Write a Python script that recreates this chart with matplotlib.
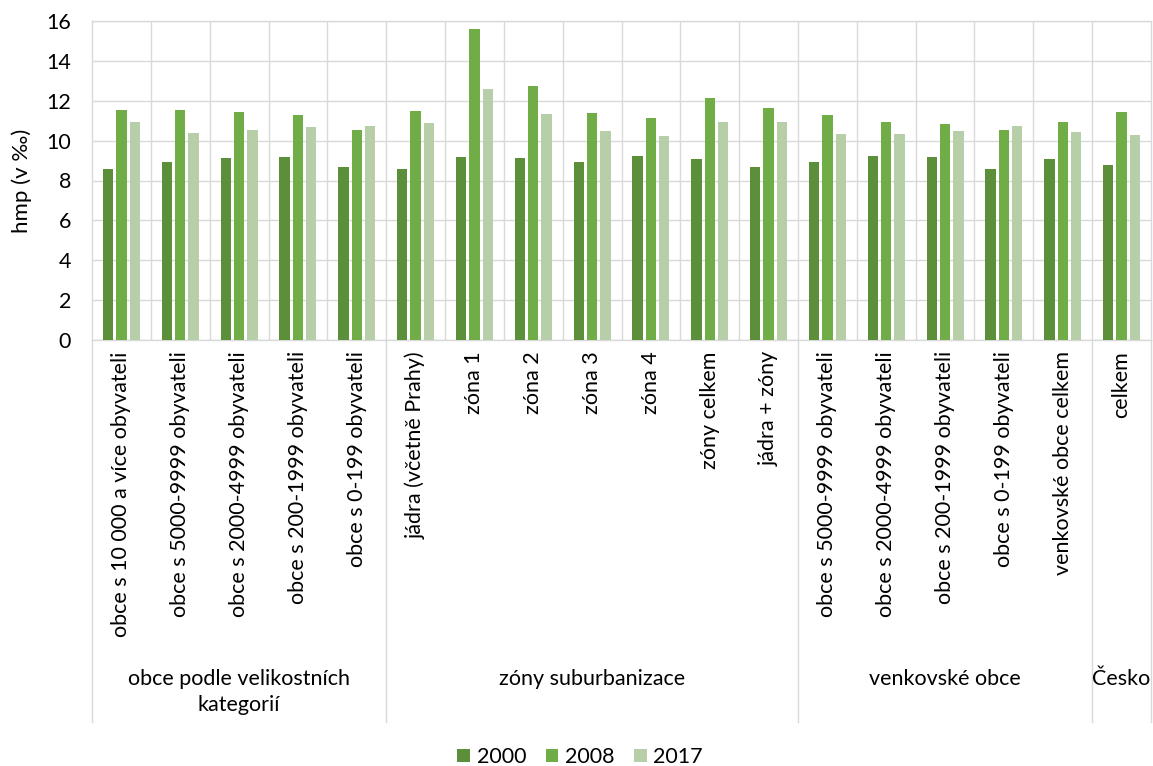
import numpy as np
import matplotlib
matplotlib.use('Agg')
from matplotlib import pyplot as plt
from matplotlib.patches import Patch

categories = ['obce s 10 000 a více obyvateli', 'obce s 5000-9999 obyvateli',
              'obce s 2000-4999 obyvateli', 'obce s 200-1999 obyvateli',
              'obce s 0-199 obyvateli',
              'jádra (včetně Prahy)', 'zóna 1', 'zóna 2', 'zóna 3', 'zóna 4',
              'zóny celkem', 'jádra + zóny',
              'obce s 5000-9999 obyvateli', 'obce s 2000-4999 obyvateli',
              'obce s 200-1999 obyvateli', 'obce s 0-199 obyvateli',
              'venkovské obce celkem',
              'celkem']
groups = ['obce podle velikostních\nkategorií', 'zóny suburbanizace',
          'venkovské obce', 'Česko']
group_sizes = [5, 7, 5, 1]

years = ['2000', '2008', '2017']
v2000 = [8.6, 8.95, 9.15, 9.2, 8.7, 8.6, 9.2, 9.15, 8.95, 9.25, 9.1, 8.7,
         8.95, 9.25, 9.2, 8.6, 9.1, 8.8]
v2008 = [11.55, 11.55, 11.45, 11.3, 10.55, 11.5, 15.6, 12.75, 11.38, 11.15,
         12.15, 11.65, 11.3, 10.95, 10.85, 10.55, 10.95, 11.45]
v2017 = [10.95, 10.4, 10.55, 10.7, 10.75, 10.9, 12.58, 11.35, 10.48, 10.22,
         10.92, 10.92, 10.35, 10.35, 10.5, 10.72, 10.42, 10.28]
colors = ['#5b8f3a', '#70ad47', '#b6cfa8']
grid_c = '#d9d9d9'
fs = 15.5

plt.rcParams['font.family'] = ['Lato', 'DejaVu Sans']

fig = plt.figure(figsize=(11.53, 7.66), dpi=100)
ax = fig.add_axes([92 / 1153, 1 - 340 / 766, (1151 - 92) / 1153, 319 / 766])

x = np.arange(len(categories))
step = 0.226
for i, vals in enumerate([v2000, v2008, v2017]):
    ax.bar(x + (i - 1) * step, vals, width=0.175, color=colors[i], zorder=3)

ax.set_xlim(-0.5, len(categories) - 0.5)
ax.set_ylim(0, 16)
ax.set_yticks(range(0, 17, 2))
ax.tick_params(axis='y', length=0, labelsize=fs, pad=15)
ax.set_xticks([])
for s in ax.spines.values():
    s.set_color(grid_c)
    s.set_linewidth(1)
ax.yaxis.grid(True, color=grid_c, linewidth=1, zorder=0)
for b in np.arange(0.5, len(categories) - 0.5):
    ax.axvline(b, color=grid_c, linewidth=1, zorder=0)

ax.set_ylabel('hmp (v ‰)', fontsize=16, labelpad=10)

tr = ax.get_xaxis_transform()
for xi, lab in zip(x, categories):
    ax.text(xi, -0.035, lab, rotation=90, ha='center', va='top',
            fontsize=fs, transform=tr)

start = 0
bounds = [-0.5]
for name, n in zip(groups, group_sizes):
    mid = start + (n - 1) / 2
    ax.text(mid, -1.03, name, ha='center', va='top', fontsize=fs,
            transform=tr, linespacing=1.4)
    start += n
    bounds.append(start - 0.5)
for b in bounds:
    ax.plot([b, b], [0, -1.197], color=grid_c, linewidth=1, transform=tr,
            clip_on=False)

handles = [Patch(facecolor=c, label=y) for c, y in zip(colors, years)]
fig.legend(handles=handles, loc='center', bbox_to_anchor=(580 / 1153, 1 - 757 / 766),
           ncol=3, frameon=False, fontsize=fs, handlelength=0.6,
           handleheight=0.6, handletextpad=0.3, columnspacing=0.9)

fig.savefig('out.png', dpi=100)
